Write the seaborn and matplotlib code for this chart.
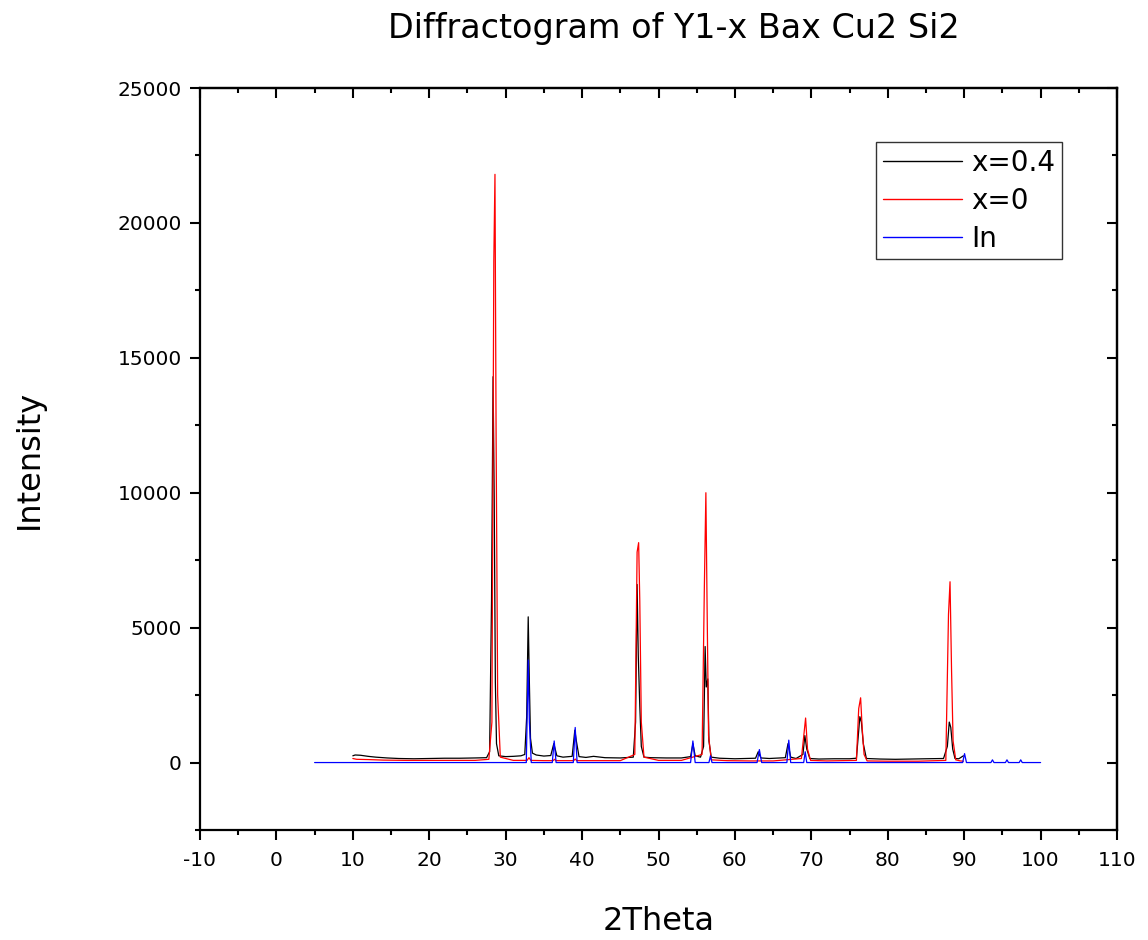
import matplotlib
matplotlib.use("Agg")
import matplotlib.pyplot as plt
import seaborn as sns
import pandas as pd
from matplotlib.ticker import MultipleLocator

# ---- data ----
series_names = ["x=0.4", "x=0", "In"]

x04_theta = [10.0, 10.3, 11.0, 12.0, 13.0, 14.5, 16.0, 18.0, 20.0, 22.0, 24.0, 26.0, 27.5, 27.9,
             28.15, 28.35, 28.5, 28.65, 28.8, 29.1, 30.0, 31.0, 32.0, 32.5, 32.75, 32.95, 33.1,
             33.25, 33.5, 34.0, 35.0, 35.9, 36.3, 36.7, 37.5, 38.7, 39.05, 39.25, 39.6, 40.5,
             41.5, 43.0, 45.0, 46.7, 47.0, 47.2, 47.35, 47.55, 47.75, 48.1, 49.0, 51.0, 53.0,
             54.2, 54.5, 54.8, 55.5, 55.9, 56.1, 56.25, 56.45, 56.6, 56.9, 58.0, 60.0, 62.7,
             63.05, 63.4, 64.5, 66.6, 66.95, 67.3, 68.0, 68.9, 69.15, 69.4, 69.8, 71.0, 73.0,
             75.0, 75.9, 76.35, 76.55, 76.8, 77.2, 79.0, 81.0, 83.0, 85.0, 87.3, 87.8, 88.05,
             88.25, 88.5, 88.8, 89.3, 89.9]
x04_int = [250, 280, 270, 230, 200, 170, 150, 140, 150, 160, 160, 170, 180, 400,
           6000, 14300, 9800, 3000, 700, 250, 220, 230, 250, 300, 1700, 5400, 3000,
           900, 350, 280, 240, 260, 700, 250, 200, 230, 1200, 800, 220, 190,
           230, 180, 170, 200, 1500, 6600, 4000, 2100, 600, 200, 180, 170, 170,
           220, 700, 250, 200, 600, 4300, 2800, 3100, 800, 200, 160, 140, 160,
           400, 170, 150, 180, 700, 200, 150, 300, 1000, 500, 150, 130, 140,
           140, 160, 1700, 1500, 700, 150, 130, 120, 130, 140, 150, 600, 1500,
           1300, 500, 150, 140, 250]

x0_theta = [10.0, 10.5, 12.0, 14.0, 17.0, 20.0, 23.0, 26.0, 27.8, 28.2, 28.45, 28.6, 28.75,
            28.95, 29.3, 31.0, 32.8, 33.05, 33.3, 35.0, 36.2, 36.4, 36.6, 38.9, 39.1, 39.3,
            42.0, 45.0, 46.9, 47.2, 47.4, 47.55, 47.75, 48.1, 50.0, 53.0, 55.7, 56.0, 56.2,
            56.35, 56.55, 56.9, 59.0, 62.0, 65.0, 68.7, 69.05, 69.25, 69.5, 69.9, 72.0, 75.9,
            76.2, 76.45, 76.65, 76.9, 77.3, 80.0, 84.0, 87.6, 87.95, 88.15, 88.35, 88.55,
            88.9, 89.5, 89.9]
x0_int = [150, 120, 110, 90, 80, 80, 80, 80, 120, 1500, 18600, 21800, 12000,
          2500, 200, 80, 80, 180, 80, 70, 70, 120, 70, 70, 130, 70,
          70, 70, 300, 7800, 8150, 6000, 1500, 200, 80, 80, 300, 6500, 10000,
          6000, 1000, 100, 70, 60, 60, 150, 1100, 1650, 500, 80, 60, 80,
          2000, 2400, 1300, 300, 60, 50, 50, 80, 5500, 6700, 3400, 800,
          100, 60, 50]

in_theta = [5.0, 32.7, 32.95, 33.1, 33.35, 36.1, 36.35, 36.6, 38.85, 39.1, 39.35, 54.2, 54.5,
            54.8, 56.6, 56.8, 57.0, 62.9, 63.2, 63.5, 66.8, 67.05, 67.3, 69.0, 69.2, 69.4,
            89.8, 90.05, 90.3, 93.5, 93.7, 93.9, 95.4, 95.6, 95.8, 97.2, 97.4, 97.6, 100.0]
in_int = [0, 0, 3800, 1500, 0, 0, 800, 0, 0, 1300, 0, 0, 800,
          0, 0, 250, 0, 0, 480, 0, 0, 830, 0, 0, 400, 0,
          0, 330, 0, 0, 100, 0, 0, 100, 0, 0, 100, 0, 0]

x_ticks = [-10, 0, 10, 20, 30, 40, 50, 60, 70, 80, 90, 100, 110]
y_ticks = [0, 5000, 10000, 15000, 20000, 25000]
colors = ["#000000", "#ff0000", "#0000ff"]

# ---- build long-form table ----
frames = []
for name, xs, ys in zip(series_names, [x04_theta, x0_theta, in_theta], [x04_int, x0_int, in_int]):
    frames.append(pd.DataFrame({"2Theta": xs, "Intensity": ys, "series": name}))
df = pd.concat(frames, ignore_index=True)

sns.set_style("ticks")
plt.rcParams["font.family"] = ["DejaVu Sans"]
plt.rcParams["axes.unicode_minus"] = False
for key in ["text.color", "axes.labelcolor", "xtick.color", "ytick.color",
            "xtick.labelcolor", "ytick.labelcolor", "axes.edgecolor"]:
    plt.rcParams[key] = "black"

fig = plt.figure(figsize=(11.48, 9.40), dpi=100)
ax = fig.add_axes([200 / 1148, 1 - 830 / 940, 917 / 1148, 742 / 940])

sns.lineplot(data=df, x="2Theta", y="Intensity", hue="series", hue_order=series_names,
             palette=colors, estimator=None, sort=False, linewidth=0.9, ax=ax)

ax.set_xlim(-10, 110)
ax.set_ylim(-2500, 25000)
ax.set_xticks(x_ticks)
ax.set_yticks(y_ticks)
ax.xaxis.set_minor_locator(MultipleLocator(5))
ax.yaxis.set_minor_locator(MultipleLocator(2500))
ax.tick_params(which="both", direction="out", width=1.5, labelsize=14.5, color="black",
               labelcolor="black", top=False, right=False, pad=6)
ax.tick_params(axis="x", which="both", pad=8)
ax.tick_params(which="major", length=7)
ax.tick_params(which="minor", length=3.5)
for s in ax.spines.values():
    s.set_linewidth(1.6)
    s.set_color("black")

# mirrored axes on top/right with inward ticks
sec_x = ax.secondary_xaxis("top")
sec_x.set_xticks(x_ticks)
sec_x.xaxis.set_minor_locator(MultipleLocator(5))
sec_x.tick_params(which="both", direction="in", width=1.5, labeltop=False)
sec_x.tick_params(which="major", length=7)
sec_x.tick_params(which="minor", length=3.5)
sec_x.spines["top"].set_linewidth(1.6)
sec_y = ax.secondary_yaxis("right")
sec_y.set_yticks(y_ticks)
sec_y.yaxis.set_minor_locator(MultipleLocator(2500))
sec_y.tick_params(which="both", direction="in", width=1.5, labelright=False)
sec_y.tick_params(which="major", length=7)
sec_y.tick_params(which="minor", length=3.5)
sec_y.spines["right"].set_linewidth(1.6)

ax.set_xlabel("2Theta", fontsize=23, labelpad=26, color="black")
ax.set_ylabel("Intensity", fontsize=23, labelpad=52, color="black")
ax.set_title("Diffractogram of Y1-x Bax Cu2 Si2", fontsize=24, pad=36, color="black", x=0.517)

leg = ax.legend(loc="upper right", bbox_to_anchor=(0.940, 0.927), fontsize=20,
                frameon=True, fancybox=False, handlelength=2.85, handletextpad=0.32,
                borderpad=0.25, labelspacing=0.35, borderaxespad=0)
leg.get_frame().set_edgecolor("black")
leg.get_frame().set_linewidth(1.0)
for line in leg.get_lines():
    line.set_linewidth(1.0)
for t in leg.get_texts():
    t.set_color("black")

fig.savefig("out.png", dpi=100)
